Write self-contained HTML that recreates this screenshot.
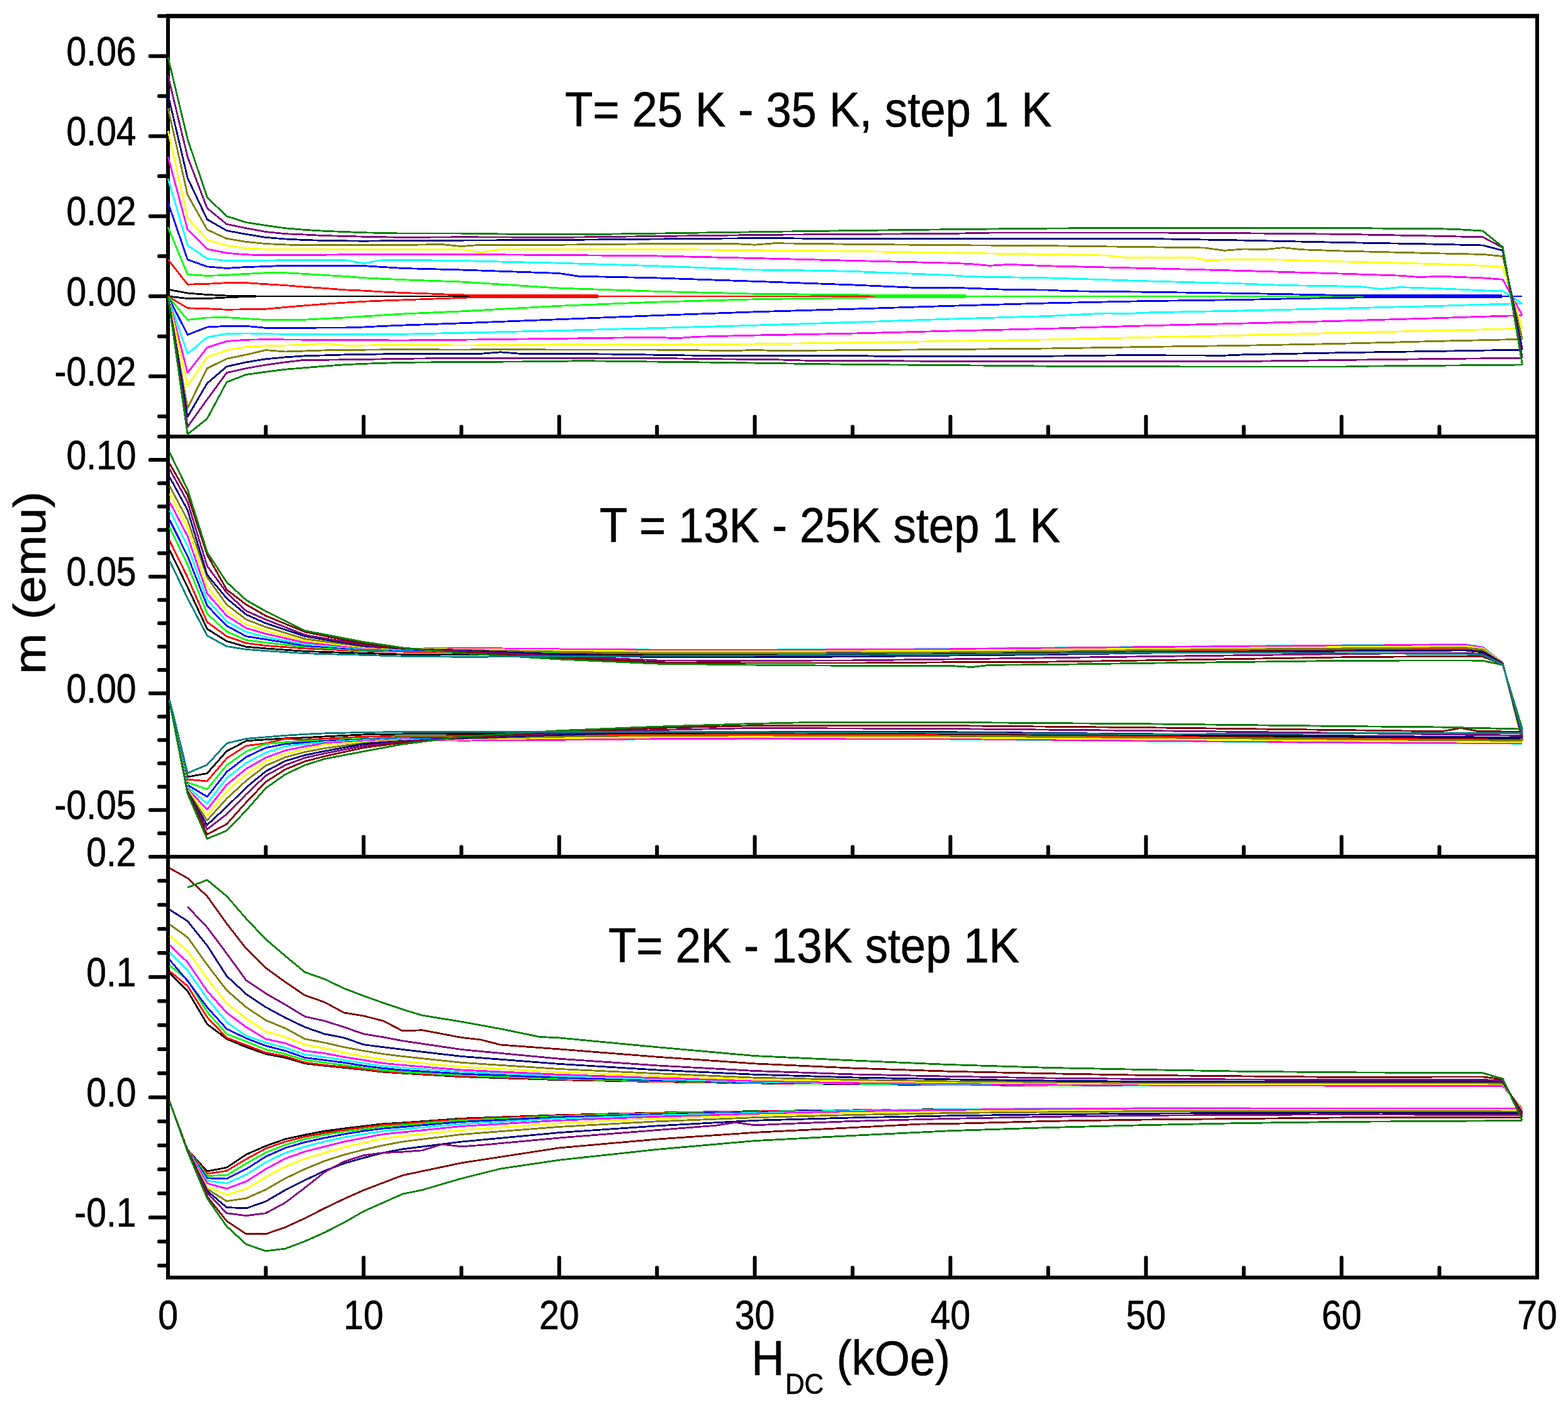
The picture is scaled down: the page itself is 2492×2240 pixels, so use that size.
<!DOCTYPE html>
<html lang="en"><head><meta charset="utf-8"><title>m (emu) vs H_DC (kOe)</title>
<style>html,body{margin:0;padding:0;background:#fff}body{width:2492px;height:2240px;overflow:hidden}svg{display:block}text{font-family:'Liberation Sans', Arial, Helvetica, sans-serif;fill:#000;stroke:#000;stroke-width:0.7px}</style>
</head><body>
<svg width="2492" height="2240" viewBox="0 0 2492 2240">
<rect x="0" y="0" width="2492" height="2240" fill="#ffffff"/>
<g>
<line x1="267.00" y1="25.50" x2="267.00" y2="2031.00" stroke="#000" stroke-width="6.00" stroke-linecap="butt"/>
<line x1="2443.00" y1="25.50" x2="2443.00" y2="2031.00" stroke="#000" stroke-width="6.00" stroke-linecap="butt"/>
<line x1="264.00" y1="25.50" x2="2446.00" y2="25.50" stroke="#000" stroke-width="7.00" stroke-linecap="butt"/>
<line x1="264.00" y1="694.00" x2="2446.00" y2="694.00" stroke="#000" stroke-width="6.00" stroke-linecap="butt"/>
<line x1="264.00" y1="1362.00" x2="2446.00" y2="1362.00" stroke="#000" stroke-width="6.00" stroke-linecap="butt"/>
<line x1="264.00" y1="2031.00" x2="2446.00" y2="2031.00" stroke="#000" stroke-width="6.00" stroke-linecap="butt"/>
<rect x="250.10" y="22.50" width="16.90" height="6.00" rx="2.2" ry="2.2" fill="#000"/>
<rect x="250.10" y="149.80" width="16.90" height="6.00" rx="2.2" ry="2.2" fill="#000"/>
<rect x="250.10" y="277.08" width="16.90" height="6.00" rx="2.2" ry="2.2" fill="#000"/>
<rect x="250.10" y="404.36" width="16.90" height="6.00" rx="2.2" ry="2.2" fill="#000"/>
<rect x="250.10" y="531.64" width="16.90" height="6.00" rx="2.2" ry="2.2" fill="#000"/>
<rect x="250.10" y="658.92" width="16.90" height="6.00" rx="2.2" ry="2.2" fill="#000"/>
<rect x="235.90" y="86.16" width="31.10" height="6.00" rx="2.2" ry="2.2" fill="#000"/>
<rect x="235.90" y="213.44" width="31.10" height="6.00" rx="2.2" ry="2.2" fill="#000"/>
<rect x="235.90" y="340.72" width="31.10" height="6.00" rx="2.2" ry="2.2" fill="#000"/>
<rect x="235.90" y="468.00" width="31.10" height="6.00" rx="2.2" ry="2.2" fill="#000"/>
<rect x="235.90" y="595.28" width="31.10" height="6.00" rx="2.2" ry="2.2" fill="#000"/>
<rect x="250.10" y="691.00" width="16.90" height="6.00" rx="2.2" ry="2.2" fill="#000"/>
<rect x="250.10" y="765.20" width="16.90" height="6.00" rx="2.2" ry="2.2" fill="#000"/>
<rect x="250.10" y="802.31" width="16.90" height="6.00" rx="2.2" ry="2.2" fill="#000"/>
<rect x="250.10" y="839.42" width="16.90" height="6.00" rx="2.2" ry="2.2" fill="#000"/>
<rect x="250.10" y="876.53" width="16.90" height="6.00" rx="2.2" ry="2.2" fill="#000"/>
<rect x="250.10" y="950.76" width="16.90" height="6.00" rx="2.2" ry="2.2" fill="#000"/>
<rect x="250.10" y="987.87" width="16.90" height="6.00" rx="2.2" ry="2.2" fill="#000"/>
<rect x="250.10" y="1024.98" width="16.90" height="6.00" rx="2.2" ry="2.2" fill="#000"/>
<rect x="250.10" y="1062.09" width="16.90" height="6.00" rx="2.2" ry="2.2" fill="#000"/>
<rect x="250.10" y="1136.31" width="16.90" height="6.00" rx="2.2" ry="2.2" fill="#000"/>
<rect x="250.10" y="1173.42" width="16.90" height="6.00" rx="2.2" ry="2.2" fill="#000"/>
<rect x="250.10" y="1210.53" width="16.90" height="6.00" rx="2.2" ry="2.2" fill="#000"/>
<rect x="250.10" y="1247.64" width="16.90" height="6.00" rx="2.2" ry="2.2" fill="#000"/>
<rect x="250.10" y="1321.87" width="16.90" height="6.00" rx="2.2" ry="2.2" fill="#000"/>
<rect x="250.10" y="1359.00" width="16.90" height="6.00" rx="2.2" ry="2.2" fill="#000"/>
<rect x="235.90" y="728.09" width="31.10" height="6.00" rx="2.2" ry="2.2" fill="#000"/>
<rect x="235.90" y="913.64" width="31.10" height="6.00" rx="2.2" ry="2.2" fill="#000"/>
<rect x="235.90" y="1099.20" width="31.10" height="6.00" rx="2.2" ry="2.2" fill="#000"/>
<rect x="235.90" y="1284.76" width="31.10" height="6.00" rx="2.2" ry="2.2" fill="#000"/>
<rect x="250.10" y="1397.24" width="16.90" height="6.00" rx="2.2" ry="2.2" fill="#000"/>
<rect x="250.10" y="1435.48" width="16.90" height="6.00" rx="2.2" ry="2.2" fill="#000"/>
<rect x="250.10" y="1473.72" width="16.90" height="6.00" rx="2.2" ry="2.2" fill="#000"/>
<rect x="250.10" y="1511.96" width="16.90" height="6.00" rx="2.2" ry="2.2" fill="#000"/>
<rect x="250.10" y="1588.44" width="16.90" height="6.00" rx="2.2" ry="2.2" fill="#000"/>
<rect x="250.10" y="1626.68" width="16.90" height="6.00" rx="2.2" ry="2.2" fill="#000"/>
<rect x="250.10" y="1664.92" width="16.90" height="6.00" rx="2.2" ry="2.2" fill="#000"/>
<rect x="250.10" y="1703.16" width="16.90" height="6.00" rx="2.2" ry="2.2" fill="#000"/>
<rect x="250.10" y="1779.64" width="16.90" height="6.00" rx="2.2" ry="2.2" fill="#000"/>
<rect x="250.10" y="1817.88" width="16.90" height="6.00" rx="2.2" ry="2.2" fill="#000"/>
<rect x="250.10" y="1856.12" width="16.90" height="6.00" rx="2.2" ry="2.2" fill="#000"/>
<rect x="250.10" y="1894.36" width="16.90" height="6.00" rx="2.2" ry="2.2" fill="#000"/>
<rect x="250.10" y="1970.84" width="16.90" height="6.00" rx="2.2" ry="2.2" fill="#000"/>
<rect x="250.10" y="2009.08" width="16.90" height="6.00" rx="2.2" ry="2.2" fill="#000"/>
<rect x="235.90" y="1359.00" width="31.10" height="6.00" rx="2.2" ry="2.2" fill="#000"/>
<rect x="235.90" y="1550.20" width="31.10" height="6.00" rx="2.2" ry="2.2" fill="#000"/>
<rect x="235.90" y="1741.40" width="31.10" height="6.00" rx="2.2" ry="2.2" fill="#000"/>
<rect x="235.90" y="1932.60" width="31.10" height="6.00" rx="2.2" ry="2.2" fill="#000"/>
<rect x="419.43" y="675.50" width="6.00" height="18.50" rx="2.2" ry="2.2" fill="#000"/>
<rect x="574.86" y="659.50" width="6.00" height="34.50" rx="2.2" ry="2.2" fill="#000"/>
<rect x="730.29" y="675.50" width="6.00" height="18.50" rx="2.2" ry="2.2" fill="#000"/>
<rect x="885.71" y="659.50" width="6.00" height="34.50" rx="2.2" ry="2.2" fill="#000"/>
<rect x="1041.14" y="675.50" width="6.00" height="18.50" rx="2.2" ry="2.2" fill="#000"/>
<rect x="1196.57" y="659.50" width="6.00" height="34.50" rx="2.2" ry="2.2" fill="#000"/>
<rect x="1352.00" y="675.50" width="6.00" height="18.50" rx="2.2" ry="2.2" fill="#000"/>
<rect x="1507.43" y="659.50" width="6.00" height="34.50" rx="2.2" ry="2.2" fill="#000"/>
<rect x="1662.86" y="675.50" width="6.00" height="18.50" rx="2.2" ry="2.2" fill="#000"/>
<rect x="1818.29" y="659.50" width="6.00" height="34.50" rx="2.2" ry="2.2" fill="#000"/>
<rect x="1973.71" y="675.50" width="6.00" height="18.50" rx="2.2" ry="2.2" fill="#000"/>
<rect x="2129.14" y="659.50" width="6.00" height="34.50" rx="2.2" ry="2.2" fill="#000"/>
<rect x="2284.57" y="675.50" width="6.00" height="18.50" rx="2.2" ry="2.2" fill="#000"/>
<rect x="419.43" y="1343.50" width="6.00" height="18.50" rx="2.2" ry="2.2" fill="#000"/>
<rect x="574.86" y="1327.50" width="6.00" height="34.50" rx="2.2" ry="2.2" fill="#000"/>
<rect x="730.29" y="1343.50" width="6.00" height="18.50" rx="2.2" ry="2.2" fill="#000"/>
<rect x="885.71" y="1327.50" width="6.00" height="34.50" rx="2.2" ry="2.2" fill="#000"/>
<rect x="1041.14" y="1343.50" width="6.00" height="18.50" rx="2.2" ry="2.2" fill="#000"/>
<rect x="1196.57" y="1327.50" width="6.00" height="34.50" rx="2.2" ry="2.2" fill="#000"/>
<rect x="1352.00" y="1343.50" width="6.00" height="18.50" rx="2.2" ry="2.2" fill="#000"/>
<rect x="1507.43" y="1327.50" width="6.00" height="34.50" rx="2.2" ry="2.2" fill="#000"/>
<rect x="1662.86" y="1343.50" width="6.00" height="18.50" rx="2.2" ry="2.2" fill="#000"/>
<rect x="1818.29" y="1327.50" width="6.00" height="34.50" rx="2.2" ry="2.2" fill="#000"/>
<rect x="1973.71" y="1343.50" width="6.00" height="18.50" rx="2.2" ry="2.2" fill="#000"/>
<rect x="2129.14" y="1327.50" width="6.00" height="34.50" rx="2.2" ry="2.2" fill="#000"/>
<rect x="2284.57" y="1343.50" width="6.00" height="18.50" rx="2.2" ry="2.2" fill="#000"/>
<rect x="419.43" y="2012.50" width="6.00" height="18.50" rx="2.2" ry="2.2" fill="#000"/>
<rect x="574.86" y="1996.50" width="6.00" height="34.50" rx="2.2" ry="2.2" fill="#000"/>
<rect x="730.29" y="2012.50" width="6.00" height="18.50" rx="2.2" ry="2.2" fill="#000"/>
<rect x="885.71" y="1996.50" width="6.00" height="34.50" rx="2.2" ry="2.2" fill="#000"/>
<rect x="1041.14" y="2012.50" width="6.00" height="18.50" rx="2.2" ry="2.2" fill="#000"/>
<rect x="1196.57" y="1996.50" width="6.00" height="34.50" rx="2.2" ry="2.2" fill="#000"/>
<rect x="1352.00" y="2012.50" width="6.00" height="18.50" rx="2.2" ry="2.2" fill="#000"/>
<rect x="1507.43" y="1996.50" width="6.00" height="34.50" rx="2.2" ry="2.2" fill="#000"/>
<rect x="1662.86" y="2012.50" width="6.00" height="18.50" rx="2.2" ry="2.2" fill="#000"/>
<rect x="1818.29" y="1996.50" width="6.00" height="34.50" rx="2.2" ry="2.2" fill="#000"/>
<rect x="1973.71" y="2012.50" width="6.00" height="18.50" rx="2.2" ry="2.2" fill="#000"/>
<rect x="2129.14" y="1996.50" width="6.00" height="34.50" rx="2.2" ry="2.2" fill="#000"/>
<rect x="2284.57" y="2012.50" width="6.00" height="18.50" rx="2.2" ry="2.2" fill="#000"/>
</g>
<g fill="none" stroke-width="2.8" stroke-linejoin="round" stroke-linecap="butt" shape-rendering="crispEdges">
<polyline stroke="#000000" points="267.0,460.2 298.1,466.0 329.2,468.5 360.3,470.0 406.9,470.4"/>
<polyline stroke="#000000" points="267.0,471.0 298.1,474.6 329.2,474.6 360.3,472.9 391.3,471.6 406.9,471.6"/>
<polyline stroke="#000000" stroke-width="1.4" points="406.9,471.0 2419.4,471.0"/>
<polyline stroke="#ff0000" points="267.0,412.5 298.1,452.2 329.2,451.3 360.3,449.7 391.3,449.7 422.4,451.7 453.5,453.6 484.6,456.2 515.7,458.3 546.8,460.8 577.9,462.1 608.9,464.0 640.0,465.5 671.1,466.5 702.2,467.8 733.3,468.8 764.4,469.7 950.9,469.7"/>
<polyline stroke="#ff0000" points="267.0,471.0 298.1,489.8 329.2,490.7 360.3,492.3 391.3,491.7 422.4,491.2 453.5,488.4 484.6,485.8 515.7,483.3 546.8,481.2 577.9,479.3 608.9,478.0 640.0,476.9 733.3,473.4 764.4,472.3 950.9,472.3"/>
<polyline stroke="#ff0000" stroke-width="1.4" points="950.9,471.0 2419.4,471.0"/>
<polyline stroke="#00ff00" points="267.0,361.2 298.1,436.4 329.2,438.4 360.3,437.4 391.3,435.4 422.4,433.8 453.5,433.8 484.6,435.4 515.7,437.4 546.8,439.2 577.9,441.7 608.9,443.3 640.0,444.7 733.3,448.0 888.7,458.1 1044.1,463.3 1199.6,467.2 1355.0,468.8 1435.8,469.7 1535.3,469.7"/>
<polyline stroke="#00ff00" points="267.0,471.0 298.1,508.5 329.2,505.0 360.3,504.6 391.3,506.6 422.4,508.5 453.5,508.9 484.6,508.2 515.7,506.6 546.8,505.0 577.9,503.0 608.9,501.0 640.0,499.0 733.3,494.9 888.7,486.3 1044.1,480.1 1199.6,475.8 1355.0,473.4 1435.8,472.3 1535.3,472.3"/>
<polyline stroke="#00ff00" stroke-width="1.4" points="1535.3,471.0 2419.4,471.0"/>
<polyline stroke="#0000ff" points="267.0,322.0 298.1,412.7 329.2,423.9 360.3,426.5 391.3,424.5 422.4,423.6 453.5,422.2 546.8,422.2 577.9,422.6 608.9,424.5 640.0,426.5 733.3,429.0 888.7,434.5 919.8,439.2 1044.1,441.9 1199.6,447.3 1355.0,452.9 1448.3,457.1 1510.4,457.1 1603.7,460.5 1665.9,461.1 1696.9,462.7 1821.3,464.2 1976.7,466.4 2070.0,468.2 2132.1,469.4 2194.3,469.6 2387.0,469.7"/>
<polyline stroke="#0000ff" points="267.0,471.0 298.1,532.3 329.2,520.0 360.3,518.4 391.3,518.4 422.4,521.3 546.8,521.0 577.9,520.0 608.9,518.4 640.0,517.1 733.3,513.8 888.7,507.7 1044.1,501.5 1199.6,495.8 1355.0,491.2 1510.4,486.3 1665.9,481.9 1821.3,478.6 1976.7,476.5 2070.0,474.3 2132.1,473.4 2209.9,472.3 2387.0,472.3"/>
<polyline stroke="#0000ff" stroke-width="1.4" points="2387.0,471.0 2419.4,471.0"/>
<polyline stroke="#00ffff" points="267.0,283.9 298.1,389.9 329.2,411.1 360.3,414.6 391.3,414.6 453.5,413.7 546.8,413.2 577.9,418.6 608.9,413.2 640.0,413.2 733.3,414.6 888.7,418.2 1044.1,422.8 1199.6,429.0 1261.7,429.6 1355.0,431.4 1510.4,437.5 1541.5,439.7 1665.9,441.9 1821.3,446.8 1976.7,451.0 2038.9,453.5 2132.1,455.0 2163.2,455.7 2194.3,459.5 2225.4,456.6 2287.6,458.7 2356.6,461.8 2388.3,462.7 2419.4,482.6"/>
<polyline stroke="#00ffff" points="267.0,471.0 298.1,562.3 329.2,536.2 360.3,530.7 391.3,529.9 422.4,530.7 453.5,531.3 640.0,531.3 733.3,529.2 888.7,525.5 1044.1,521.5 1199.6,517.2 1355.0,512.3 1510.4,507.1 1665.9,502.5 1759.1,497.9 1790.2,498.8 1821.3,497.0 1976.7,493.9 2132.1,490.2 2287.6,486.3 2380.8,483.5 2419.4,482.6"/>
<polyline stroke="#ff00ff" points="267.0,248.9 298.1,365.1 329.2,395.9 360.3,402.3 391.3,404.8 422.4,405.8 484.6,405.5 546.8,404.8 640.0,404.3 733.3,404.4 888.7,405.5 1044.1,406.9 1199.6,410.5 1355.0,414.4 1510.4,418.2 1541.5,419.5 1572.6,422.3 1603.7,420.4 1665.9,422.8 1821.3,426.5 1976.7,430.5 2132.1,435.1 2225.4,438.2 2256.5,440.6 2287.6,439.2 2356.6,441.9 2388.3,444.3 2419.4,501.5"/>
<polyline stroke="#ff00ff" points="267.0,471.0 298.1,592.6 329.2,552.5 360.3,542.5 391.3,540.2 422.4,539.7 546.8,540.6 640.0,541.0 733.3,540.2 888.7,538.3 1044.1,536.2 1075.2,537.8 1106.3,535.3 1199.6,533.1 1355.0,530.1 1510.4,526.1 1665.9,522.4 1821.3,517.8 1976.7,514.1 2132.1,510.1 2287.6,505.6 2380.8,502.5 2419.4,501.5"/>
<polyline stroke="#ffff00" points="267.0,207.7 298.1,346.3 329.2,381.3 360.3,390.4 391.3,394.6 422.4,396.4 453.5,396.8 640.0,396.8 733.3,396.2 764.4,401.4 795.5,396.2 1044.1,396.2 1199.6,397.8 1355.0,399.3 1510.4,402.0 1665.9,404.4 1759.1,406.1 1790.2,409.7 1821.3,409.1 1899.0,409.7 1914.5,413.7 1976.7,412.1 2038.9,413.1 2132.1,415.8 2287.6,419.8 2356.6,422.3 2388.3,424.4 2419.4,522.4"/>
<polyline stroke="#ffff00" points="267.0,471.0 298.1,613.3 329.2,567.9 360.3,556.6 391.3,551.6 422.4,549.7 453.5,549.1 484.6,548.4 515.7,546.1 546.8,549.1 577.9,549.1 640.0,548.0 733.3,549.1 888.7,547.8 1044.1,548.2 1199.6,546.9 1355.0,544.8 1510.4,542.3 1665.9,539.9 1821.3,536.2 1976.7,533.1 2132.1,529.2 2287.6,525.5 2419.4,522.4"/>
<polyline stroke="#808000" points="267.0,171.9 298.1,309.7 329.2,365.1 360.3,379.4 391.3,384.4 422.4,387.6 453.5,388.9 484.6,389.9 640.0,389.5 702.2,388.5 733.3,391.6 764.4,389.2 888.7,389.2 1044.1,387.6 1168.5,387.6 1199.6,389.2 1230.7,386.7 1355.0,388.3 1510.4,389.7 1665.9,390.7 1821.3,392.7 1914.5,394.0 1945.6,398.3 1976.7,395.9 2007.8,396.8 2038.9,393.7 2070.0,396.8 2132.1,399.0 2287.6,402.9 2356.6,404.4 2388.3,407.5 2419.4,539.3"/>
<polyline stroke="#808000" points="267.0,471.0 298.1,648.9 329.2,585.6 360.3,570.3 391.3,563.9 422.4,556.6 453.5,559.0 484.6,558.0 515.7,556.9 546.8,556.4 640.0,555.6 733.3,556.1 795.5,555.3 888.7,556.1 1044.1,556.1 1168.5,557.6 1199.6,556.3 1230.7,557.6 1355.0,556.7 1510.4,555.5 1665.9,554.0 1821.3,551.5 1976.7,549.3 2132.1,546.3 2287.6,542.3 2419.4,539.3"/>
<polyline stroke="#000080" points="267.0,150.3 298.1,282.9 329.2,348.8 360.3,366.6 391.3,372.4 422.4,377.4 453.5,380.0 484.6,381.5 515.7,382.5 577.9,383.2 640.0,382.5 888.7,381.5 1044.1,380.0 1230.7,378.4 1292.8,379.4 1821.3,379.4 1976.7,382.1 2132.1,385.5 2287.6,388.3 2356.6,390.0 2388.3,398.3 2419.4,556.1"/>
<polyline stroke="#000080" points="267.0,471.0 298.1,662.7 329.2,609.4 360.3,582.7 391.3,575.8 422.4,570.8 453.5,567.9 484.6,565.8 515.7,564.9 546.8,563.9 577.9,563.5 640.0,562.3 764.4,562.3 795.5,559.8 826.5,562.3 888.7,562.3 982.0,563.2 1106.3,565.2 1230.7,565.8 1355.0,565.3 1417.2,566.8 1510.4,566.8 1603.7,566.2 1665.9,566.2 1790.2,564.7 1945.6,565.2 1976.7,563.8 2132.1,560.7 2287.6,558.3 2419.4,556.1"/>
<polyline stroke="#800080" points="267.0,120.3 298.1,249.5 329.2,331.0 360.3,356.4 391.3,362.8 422.4,368.5 453.5,371.7 484.6,373.0 515.7,374.6 577.9,376.2 640.0,377.4 733.3,376.8 888.7,377.4 1044.1,375.5 1230.7,373.2 1355.0,372.4 1510.4,371.4 1572.6,370.1 1821.3,369.9 1976.7,370.8 2132.1,372.3 2287.6,375.3 2356.6,376.9 2388.3,393.7 2419.4,569.3"/>
<polyline stroke="#800080" points="267.0,471.0 298.1,678.5 329.2,635.1 360.3,592.6 391.3,585.6 422.4,580.1 453.5,575.8 484.6,572.2 515.7,572.2 546.8,571.8 577.9,571.4 640.0,570.3 733.3,569.3 1044.1,569.3 1106.3,570.5 1230.7,571.7 1292.8,573.5 1386.1,573.5 1510.4,574.5 1821.3,574.7 1976.7,574.5 2132.1,572.4 2287.6,570.5 2419.4,569.3"/>
<polyline stroke="#008000" points="267.0,91.1 298.1,220.9 329.2,313.8 360.3,343.7 391.3,353.6 422.4,358.4 453.5,362.8 484.6,365.4 515.7,367.3 546.8,368.5 577.9,369.8 640.0,371.1 733.3,371.1 826.5,372.4 950.9,372.4 1044.1,371.1 1230.7,368.3 1355.0,366.6 1510.4,364.7 1665.9,363.1 1821.3,362.2 2132.1,362.2 2194.3,363.1 2287.6,363.7 2318.7,364.7 2356.6,367.1 2388.3,392.8 2419.4,580.0"/>
<polyline stroke="#008000" points="267.0,471.0 298.1,690.4 329.2,665.7 360.3,607.4 391.3,595.5 422.4,591.2 453.5,587.2 484.6,584.7 515.7,582.1 546.8,579.8 577.9,578.3 640.0,576.3 671.1,576.0 888.7,574.5 919.8,573.6 1044.1,575.1 1168.5,576.6 1292.8,578.6 1386.1,579.7 1510.4,580.6 1603.7,581.5 1728.0,582.8 2132.1,583.1 2163.2,582.2 2287.6,581.2 2419.4,580.0"/>
<polyline stroke="#000000" points="269.7,874.7 298.1,933.3 329.2,999.8 360.3,1019.4 391.3,1028.3 422.4,1030.9 484.6,1035.4 577.9,1038.4 640.0,1040.2 733.3,1040.6 888.7,1040.6 1044.1,1040.2 1199.6,1039.9 1355.0,1039.5 1510.4,1038.7 1665.9,1037.3 1821.3,1035.8 2132.1,1034.7 2287.6,1034.3 2328.0,1033.9 2356.6,1036.9 2388.3,1055.4 2419.4,1174.6"/>
<polyline stroke="#000000" points="269.7,1113.7 298.1,1235.1 329.2,1229.5 360.3,1194.2 391.3,1177.8 422.4,1175.8 453.5,1173.8 484.6,1172.7 515.7,1170.9 577.9,1167.9 640.0,1166.9 733.3,1166.4 888.7,1166.0 1044.1,1165.7 1199.6,1165.7 1510.4,1167.1 1821.3,1169.4 2132.1,1172.0 2419.4,1174.6"/>
<polyline stroke="#ff0000" points="269.7,859.8 298.1,917.8 329.2,989.0 360.3,1011.6 391.3,1022.4 422.4,1026.5 484.6,1030.9 577.9,1035.0 640.0,1036.1 733.3,1037.3 888.7,1038.0 1044.1,1038.4 1199.6,1038.4 1355.0,1038.0 1510.4,1036.9 1665.9,1035.4 1821.3,1033.9 2132.1,1032.4 2287.6,1031.7 2328.0,1031.3 2356.6,1034.7 2388.3,1054.7 2419.4,1176.4"/>
<polyline stroke="#ff0000" points="269.7,1114.1 298.1,1239.1 329.2,1242.0 360.3,1205.4 391.3,1185.7 422.4,1181.7 453.5,1174.4 484.6,1176.2 515.7,1174.4 577.9,1171.2 640.0,1170.5 733.3,1169.7 888.7,1169.0 1044.1,1168.3 1199.6,1167.5 1510.4,1169.0 1821.3,1171.2 2132.1,1173.8 2419.4,1176.4"/>
<polyline stroke="#00ff00" points="269.7,838.8 298.1,897.7 329.2,976.0 360.3,1003.9 391.3,1017.6 422.4,1021.7 484.6,1028.3 577.9,1033.5 640.0,1034.7 733.3,1035.4 888.7,1036.5 1044.1,1036.9 1199.6,1036.9 1355.0,1036.5 1510.4,1035.4 1665.9,1033.9 1821.3,1032.4 2132.1,1030.6 2287.6,1029.8 2328.0,1029.5 2356.6,1033.2 2388.3,1054.3 2419.4,1177.9"/>
<polyline stroke="#00ff00" points="269.7,1114.5 298.1,1244.0 329.2,1254.7 360.3,1216.3 391.3,1194.6 422.4,1182.7 453.5,1179.8 484.6,1178.2 515.7,1176.8 577.9,1174.4 640.0,1172.3 733.3,1172.0 888.7,1171.2 1044.1,1170.1 1199.6,1169.4 1510.4,1170.5 1821.3,1173.1 2132.1,1175.7 2419.4,1177.9"/>
<polyline stroke="#0000ff" points="269.7,826.7 298.1,884.0 329.2,963.0 360.3,994.9 391.3,1011.6 422.4,1016.5 484.6,1026.5 577.9,1032.4 640.0,1033.5 733.3,1033.9 888.7,1035.0 1044.1,1035.8 1199.6,1035.8 1355.0,1035.4 1510.4,1034.3 1665.9,1032.8 1821.3,1031.3 2132.1,1029.1 2287.6,1028.0 2328.0,1027.6 2356.6,1031.7 2388.3,1054.0 2419.4,1179.0"/>
<polyline stroke="#0000ff" points="269.7,1114.9 298.1,1248.0 329.2,1266.6 360.3,1227.2 391.3,1203.5 422.4,1188.7 453.5,1182.7 484.6,1180.4 515.7,1178.2 577.9,1175.7 640.0,1173.5 733.3,1173.8 888.7,1172.7 1044.1,1171.6 1199.6,1170.9 1510.4,1171.6 1821.3,1174.2 2132.1,1176.8 2419.4,1179.0"/>
<polyline stroke="#00ffff" points="269.7,811.8 298.1,868.0 329.2,953.4 360.3,987.9 391.3,1004.6 422.4,1012.8 484.6,1024.3 577.9,1031.3 640.0,1032.4 733.3,1030.8 888.7,1031.9 1044.1,1033.0 1199.6,1033.0 1355.0,1032.6 1510.4,1031.5 1665.9,1030.0 1821.3,1028.5 2132.1,1025.9 2287.6,1024.8 2328.0,1024.5 2356.6,1028.9 2388.3,1053.6 2419.4,1180.5"/>
<polyline stroke="#00ffff" points="269.7,1115.1 298.1,1251.0 329.2,1277.5 360.3,1237.0 391.3,1212.8 422.4,1196.5 453.5,1186.7 484.6,1182.7 515.7,1179.8 577.9,1176.8 640.0,1174.6 733.3,1177.0 888.7,1176.2 1044.1,1174.8 1199.6,1174.4 1510.4,1175.1 1821.3,1178.1 2132.1,1180.7 2419.4,1182.2"/>
<polyline stroke="#ff00ff" points="269.7,798.2 298.1,852.4 329.2,943.4 360.3,979.0 391.3,998.7 422.4,1007.6 484.6,1021.7 577.9,1030.2 640.0,1031.3 733.3,1030.2 888.7,1031.9 1044.1,1033.2 1199.6,1033.2 1355.0,1032.8 1510.4,1031.9 1665.9,1030.2 1821.3,1028.7 2132.1,1026.3 2287.6,1025.4 2328.0,1025.0 2356.6,1029.5 2388.3,1053.6 2419.4,1180.5"/>
<polyline stroke="#ff00ff" points="269.7,1115.4 298.1,1254.0 329.2,1287.0 360.3,1247.5 391.3,1222.2 422.4,1204.4 453.5,1193.1 484.6,1186.7 515.7,1181.7 577.9,1178.3 640.0,1175.7 733.3,1177.2 888.7,1176.2 1044.1,1174.6 1199.6,1174.0 1510.4,1174.6 1821.3,1177.5 2132.1,1180.1 2419.4,1181.6"/>
<polyline stroke="#ffff00" points="269.7,785.1 298.1,838.3 329.2,932.6 360.3,971.2 391.3,992.7 422.4,1002.7 484.6,1018.7 577.9,1029.1 640.0,1031.3 733.3,1032.1 888.7,1033.9 1044.1,1035.4 1199.6,1035.4 1355.0,1035.0 1510.4,1034.3 1665.9,1032.8 1821.3,1031.3 2132.1,1028.7 2287.6,1027.6 2328.0,1027.2 2356.6,1030.9 2388.3,1054.0 2419.4,1179.8"/>
<polyline stroke="#ffff00" points="269.7,1115.5 298.1,1255.8 329.2,1296.3 360.3,1257.7 391.3,1231.1 422.4,1210.4 453.5,1198.5 484.6,1191.0 515.7,1183.7 577.9,1179.8 640.0,1176.8 733.3,1175.3 888.7,1173.5 1044.1,1172.0 1199.6,1171.6 1510.4,1172.7 1821.3,1175.3 2132.1,1177.9 2419.4,1179.8"/>
<polyline stroke="#808000" points="269.7,772.9 298.1,826.5 329.2,917.8 360.3,961.2 391.3,984.9 422.4,996.8 484.6,1015.7 577.9,1028.0 640.0,1031.3 733.3,1033.2 888.7,1036.1 1044.1,1038.4 1199.6,1038.4 1355.0,1038.0 1510.4,1036.9 1665.9,1035.4 1821.3,1033.5 2132.1,1030.9 2287.6,1029.8 2328.0,1029.5 2356.6,1032.8 2388.3,1054.3 2419.4,1177.5"/>
<polyline stroke="#808000" points="269.7,1115.7 298.1,1257.7 329.2,1304.2 360.3,1269.6 391.3,1241.0 422.4,1217.2 453.5,1203.9 484.6,1195.6 515.7,1189.6 577.9,1181.2 640.0,1177.5 733.3,1174.2 888.7,1171.2 1044.1,1169.4 1199.6,1169.0 1510.4,1170.1 1821.3,1172.7 2132.1,1175.3 2419.4,1177.5"/>
<polyline stroke="#000080" points="269.7,758.7 298.1,810.9 329.2,913.7 360.3,951.2 391.3,977.1 422.4,990.9 484.6,1011.6 577.9,1026.9 640.0,1031.3 733.3,1034.3 888.7,1039.9 1044.1,1045.0 1199.6,1044.9 1355.0,1043.9 1510.4,1042.1 1665.9,1040.6 1821.3,1038.2 2132.1,1035.0 2287.6,1034.3 2328.0,1033.9 2356.6,1036.1 2388.3,1054.7 2419.4,1172.7"/>
<polyline stroke="#000080" points="269.7,1115.8 298.1,1258.8 329.2,1311.5 360.3,1282.6 391.3,1251.9 422.4,1226.2 453.5,1209.8 484.6,1200.5 515.7,1194.2 577.9,1182.7 640.0,1178.3 733.3,1173.5 888.7,1168.3 1044.1,1163.8 1199.6,1163.1 1510.4,1163.8 1821.3,1166.8 2132.1,1169.7 2419.4,1172.7"/>
<polyline stroke="#800080" points="269.7,746.0 298.1,797.9 329.2,899.9 360.3,942.3 391.3,971.2 422.4,984.9 484.6,1009.4 577.9,1025.4 640.0,1030.9 733.3,1035.4 888.7,1042.8 1044.1,1049.9 1199.6,1050.4 1355.0,1049.9 1510.4,1048.0 1665.9,1045.8 1821.3,1043.7 2132.1,1039.7 2287.6,1038.2 2328.0,1038.0 2356.6,1039.9 2388.3,1055.4 2419.4,1169.4"/>
<polyline stroke="#800080" points="269.7,1115.9 298.1,1259.9 329.2,1318.4 360.3,1294.4 391.3,1262.7 422.4,1233.1 453.5,1216.3 484.6,1204.8 515.7,1197.9 577.9,1185.7 640.0,1179.0 733.3,1172.7 888.7,1166.0 1044.1,1160.5 1199.6,1157.5 1510.4,1158.6 1821.3,1161.6 2132.1,1165.3 2419.4,1169.4"/>
<polyline stroke="#800000" points="269.7,737.0 298.1,787.1 329.2,882.1 360.3,937.4 391.3,961.2 422.4,979.0 484.6,1004.6 577.9,1023.5 640.0,1030.6 733.3,1036.9 888.7,1045.4 1044.1,1052.8 1199.6,1054.1 1355.0,1054.1 1510.4,1052.8 1665.9,1052.1 1821.3,1049.9 2132.1,1044.9 2287.6,1043.4 2328.0,1043.2 2356.6,1043.9 2388.3,1056.2 2419.4,1163.1"/>
<polyline stroke="#800000" points="269.7,1116.0 298.1,1260.7 329.2,1326.5 360.3,1310.1 391.3,1275.5 422.4,1243.0 453.5,1223.2 484.6,1210.4 515.7,1202.4 577.9,1188.7 640.0,1180.7 733.3,1172.0 888.7,1163.8 1044.1,1157.5 1199.6,1153.6 1510.4,1153.6 1821.3,1156.7 2132.1,1160.6 2256.5,1162.3 2293.8,1162.3 2321.8,1157.5 2349.7,1162.7 2419.4,1163.1"/>
<polyline stroke="#008000" points="269.7,719.6 298.1,778.2 329.2,878.0 360.3,925.6 391.3,954.1 422.4,971.9 484.6,1002.7 577.9,1020.6 640.0,1029.8 733.3,1038.4 888.7,1048.0 1044.1,1055.1 1199.6,1057.1 1355.0,1058.4 1510.4,1058.4 1544.6,1060.6 1572.6,1057.3 1665.9,1056.6 1821.3,1054.3 2132.1,1050.4 2287.6,1049.9 2328.0,1049.9 2356.6,1050.4 2388.3,1057.1 2419.4,1159.1"/>
<polyline stroke="#008000" points="269.7,1116.1 298.1,1261.8 329.2,1333.4 360.3,1320.6 391.3,1288.4 422.4,1252.9 453.5,1231.1 484.6,1216.3 515.7,1206.5 577.9,1194.6 640.0,1183.1 733.3,1171.2 888.7,1161.6 1044.1,1155.2 1199.6,1150.4 1292.8,1148.4 1510.4,1148.4 1821.3,1150.8 2132.1,1154.5 2287.6,1156.0 2419.4,1159.1"/>
<polyline stroke="#008080" points="269.7,891.5 298.1,951.2 329.2,1010.5 360.3,1027.6 391.3,1032.4 422.4,1034.7 484.6,1038.7 577.9,1041.3 640.0,1043.2 733.3,1044.3 888.7,1043.6 1044.1,1042.8 1199.6,1042.1 1355.0,1041.3 1510.4,1040.2 1665.9,1039.1 1821.3,1037.6 2132.1,1038.0 2287.6,1039.7 2328.0,1039.9 2356.6,1041.3 2388.3,1056.6 2419.4,1165.3"/>
<polyline stroke="#008080" points="269.7,1113.2 298.1,1229.1 329.2,1215.9 360.3,1181.7 391.3,1174.4 422.4,1171.9 453.5,1169.3 484.6,1167.3 515.7,1165.9 577.9,1164.4 640.0,1163.4 733.3,1163.8 888.7,1163.1 1044.1,1163.4 1199.6,1163.8 1510.4,1165.3 1821.3,1167.4 2132.1,1165.8 2419.4,1165.3"/>
<polyline stroke="#000000" points="269.7,1547.3 298.1,1575.4 329.2,1628.0 360.3,1651.7 391.3,1664.7 422.4,1675.6 453.5,1681.5 484.6,1690.7 515.7,1694.3 546.8,1697.4 577.9,1700.6 608.9,1704.2 640.0,1706.2 733.3,1711.7 888.7,1716.7 1044.1,1719.7 1199.6,1722.0 1355.0,1723.6 1510.4,1724.7 1665.9,1725.5 1821.3,1726.0 2132.1,1726.0 2356.6,1726.0 2388.3,1726.4 2419.4,1762.6"/>
<polyline stroke="#000000" points="269.7,1751.6 298.1,1827.8 329.2,1862.1 360.3,1856.1 391.3,1835.4 422.4,1821.8 453.5,1810.9 484.6,1804.1 515.7,1798.1 546.8,1794.1 577.9,1790.3 608.9,1786.7 640.0,1784.9 733.3,1778.2 888.7,1772.7 1044.1,1769.1 1199.6,1766.6 1355.0,1764.9 1510.4,1763.5 1665.9,1762.8 1821.3,1762.2 2132.1,1762.2 2419.4,1762.6"/>
<polyline stroke="#ff0000" points="269.7,1544.0 298.1,1567.5 329.2,1617.1 360.3,1649.8 391.3,1661.6 422.4,1673.5 453.5,1679.4 484.6,1689.3 515.7,1693.3 546.8,1696.2 577.9,1699.9 608.9,1703.3 640.0,1705.6 733.3,1710.7 888.7,1715.9 1044.1,1719.4 1199.6,1721.8 1355.0,1723.4 1510.4,1724.5 1665.9,1725.3 1821.3,1725.9 2132.1,1726.0 2356.6,1726.0 2388.3,1726.4 2419.4,1762.6"/>
<polyline stroke="#ff0000" points="269.7,1751.6 298.1,1827.8 329.2,1866.0 360.3,1861.4 391.3,1842.7 422.4,1825.9 453.5,1815.0 484.6,1807.1 515.7,1801.2 546.8,1796.2 577.9,1792.2 608.9,1788.2 640.0,1786.3 733.3,1779.4 888.7,1773.3 1044.1,1769.4 1199.6,1767.0 1355.0,1765.0 1510.4,1763.7 1665.9,1762.9 1821.3,1762.2 2132.1,1762.2 2419.4,1762.6"/>
<polyline stroke="#00ff00" points="269.7,1534.9 298.1,1557.6 329.2,1609.0 360.3,1643.8 391.3,1655.7 422.4,1668.5 453.5,1675.6 484.6,1685.3 515.7,1689.3 546.8,1693.3 577.9,1697.4 608.9,1701.2 640.0,1703.9 733.3,1709.2 888.7,1714.8 1044.1,1718.4 1199.6,1721.5 1355.0,1723.0 1510.4,1724.3 1665.9,1725.1 1821.3,1725.7 2132.1,1725.9 2356.6,1725.9 2388.3,1726.4 2419.4,1762.6"/>
<polyline stroke="#00ff00" points="269.7,1751.7 298.1,1828.0 329.2,1869.4 360.3,1868.5 391.3,1849.6 422.4,1832.4 453.5,1819.9 484.6,1810.9 515.7,1804.1 546.8,1799.1 577.9,1795.3 608.9,1790.9 640.0,1788.8 733.3,1781.3 888.7,1774.6 1044.1,1770.2 1199.6,1767.5 1355.0,1765.2 1510.4,1763.7 1665.9,1762.9 1821.3,1762.2 2132.1,1762.2 2419.4,1762.6"/>
<polyline stroke="#0000ff" points="269.7,1526.0 298.1,1559.5 329.2,1601.2 360.3,1635.8 391.3,1650.7 422.4,1662.6 453.5,1670.6 484.6,1681.5 515.7,1685.3 546.8,1689.3 577.9,1694.3 608.9,1698.3 640.0,1701.2 733.3,1707.1 888.7,1713.2 1044.1,1717.4 1199.6,1720.9 1355.0,1722.6 1510.4,1723.9 1665.9,1724.9 1821.3,1725.5 2132.1,1725.9 2356.6,1725.9 2388.3,1726.4 2419.4,1762.6"/>
<polyline stroke="#0000ff" points="269.7,1751.7 298.1,1828.0 329.2,1872.9 360.3,1874.0 391.3,1858.5 422.4,1838.7 453.5,1824.9 484.6,1815.9 515.7,1809.0 546.8,1803.1 577.9,1798.1 608.9,1794.1 640.0,1791.6 733.3,1783.4 888.7,1776.1 1044.1,1771.6 1199.6,1768.1 1355.0,1765.4 1510.4,1763.7 1665.9,1762.8 1821.3,1762.0 2132.1,1762.2 2419.4,1762.6"/>
<polyline stroke="#00ffff" points="269.7,1514.6 298.1,1542.7 329.2,1587.2 360.3,1624.9 391.3,1646.7 422.4,1657.6 453.5,1665.6 484.6,1676.5 515.7,1680.5 546.8,1685.3 577.9,1690.3 608.9,1694.9 640.0,1697.4 733.3,1704.1 888.7,1710.7 1044.1,1715.9 1199.6,1719.9 1355.0,1722.0 1510.4,1723.6 1665.9,1724.5 1821.3,1725.3 2132.1,1725.7 2356.6,1725.9 2388.3,1726.2 2419.4,1762.6"/>
<polyline stroke="#00ffff" points="269.7,1751.7 298.1,1828.1 329.2,1877.3 360.3,1881.3 391.3,1867.3 422.4,1847.6 453.5,1832.7 484.6,1822.8 515.7,1815.0 546.8,1808.1 577.9,1803.1 608.9,1798.1 640.0,1795.3 733.3,1786.8 888.7,1778.2 1044.1,1773.1 1199.6,1769.4 1355.0,1765.8 1510.4,1763.5 1665.9,1762.6 1821.3,1761.8 2132.1,1762.0 2419.4,1762.6"/>
<polyline stroke="#ff00ff" points="269.7,1502.6 298.1,1529.9 329.2,1575.4 360.3,1610.0 391.3,1632.9 422.4,1651.7 453.5,1658.6 484.6,1670.6 515.7,1674.4 546.8,1680.5 577.9,1685.3 608.9,1690.3 640.0,1693.3 733.3,1701.0 888.7,1708.3 1044.1,1713.8 1199.6,1718.4 1355.0,1721.1 1510.4,1722.6 1665.9,1723.8 1821.3,1725.1 2132.1,1726.2 2356.6,1726.2 2388.3,1726.2 2419.4,1762.8"/>
<polyline stroke="#ff00ff" points="269.7,1751.7 298.1,1828.3 329.2,1881.3 360.3,1889.7 391.3,1878.2 422.4,1858.5 453.5,1841.7 484.6,1830.8 515.7,1822.8 546.8,1815.0 577.9,1809.0 608.9,1803.1 640.0,1800.0 733.3,1790.5 888.7,1781.3 1044.1,1775.2 1199.6,1771.0 1355.0,1767.3 1510.4,1764.3 1665.9,1763.1 1821.3,1762.4 2132.1,1762.6 2419.4,1762.8"/>
<polyline stroke="#ffff00" points="269.7,1487.5 298.1,1511.9 329.2,1555.5 360.3,1595.3 391.3,1619.0 422.4,1639.8 453.5,1648.8 484.6,1660.7 515.7,1666.6 546.8,1673.5 577.9,1679.4 608.9,1684.4 640.0,1687.4 733.3,1696.0 888.7,1704.6 1044.1,1710.7 1199.6,1716.3 1355.0,1719.0 1510.4,1720.7 1665.9,1722.0 1821.3,1723.2 2132.1,1723.8 2356.6,1723.8 2388.3,1724.1 2419.4,1764.7"/>
<polyline stroke="#ffff00" points="269.7,1751.7 298.1,1828.5 329.2,1887.2 360.3,1899.1 391.3,1890.1 422.4,1871.4 453.5,1854.5 484.6,1842.3 515.7,1832.7 546.8,1823.9 577.9,1816.9 608.9,1810.0 640.0,1806.2 733.3,1796.6 888.7,1785.9 1044.1,1778.2 1199.6,1773.1 1355.0,1769.4 1510.4,1767.2 1665.9,1765.8 1821.3,1764.7 2132.1,1764.3 2419.4,1764.7"/>
<polyline stroke="#808000" points="269.7,1469.7 298.1,1490.1 329.2,1533.7 360.3,1574.4 391.3,1601.2 422.4,1622.0 453.5,1634.8 484.6,1651.7 515.7,1657.6 546.8,1664.7 577.9,1670.6 608.9,1675.6 640.0,1679.4 733.3,1689.3 888.7,1699.5 1044.1,1706.7 1199.6,1713.2 1355.0,1716.5 1510.4,1719.0 1665.9,1720.5 1821.3,1721.6 2132.1,1722.0 2356.6,1722.0 2388.3,1722.4 2419.4,1767.0"/>
<polyline stroke="#808000" points="269.7,1751.7 298.1,1828.7 329.2,1890.1 360.3,1909.6 391.3,1905.0 422.4,1891.2 453.5,1873.3 484.6,1858.5 515.7,1845.7 546.8,1835.8 577.9,1827.8 608.9,1820.9 640.0,1815.0 733.3,1803.5 888.7,1791.4 1044.1,1782.8 1199.6,1776.7 1355.0,1772.5 1510.4,1769.6 1665.9,1767.9 1821.3,1766.6 2132.1,1766.2 2419.4,1767.0"/>
<polyline stroke="#000080" points="269.7,1446.3 298.1,1464.3 329.2,1503.1 360.3,1551.7 391.3,1580.4 422.4,1601.2 453.5,1618.0 484.6,1632.9 515.7,1643.8 546.8,1649.8 577.9,1660.7 608.9,1664.7 640.0,1668.5 733.3,1679.4 888.7,1691.4 1044.1,1701.0 1199.6,1708.3 1355.0,1712.9 1510.4,1715.9 1665.9,1718.0 1821.3,1719.5 2132.1,1719.5 2356.6,1719.5 2388.3,1719.9 2419.4,1769.8"/>
<polyline stroke="#000080" points="269.7,1751.7 298.1,1828.9 329.2,1893.2 360.3,1919.5 391.3,1920.9 422.4,1910.0 453.5,1891.8 484.6,1876.3 515.7,1861.4 546.8,1849.6 577.9,1840.8 608.9,1832.7 640.0,1826.8 733.3,1815.1 888.7,1800.6 1044.1,1789.9 1199.6,1781.3 1355.0,1776.9 1510.4,1773.8 1665.9,1771.7 1821.3,1770.2 2132.1,1768.9 2419.4,1769.8"/>
<polyline stroke="#800080" points="298.1,1441.5 329.2,1474.2 360.3,1515.9 391.3,1558.6 422.4,1579.4 453.5,1597.2 484.6,1616.1 515.7,1623.0 546.8,1632.9 577.9,1643.8 608.9,1648.8 640.0,1654.7 733.3,1668.5 888.7,1683.2 1044.1,1693.9 1199.6,1702.5 1355.0,1707.9 1510.4,1711.3 1665.9,1714.0 1821.3,1715.5 2132.1,1716.5 2356.6,1716.5 2388.3,1718.0 2419.4,1772.7"/>
<polyline stroke="#800080" points="269.7,1751.8 298.1,1829.3 329.2,1896.2 360.3,1928.7 391.3,1932.7 422.4,1928.7 453.5,1911.9 484.6,1888.2 515.7,1863.5 546.8,1846.7 577.9,1836.7 608.9,1832.7 640.0,1831.2 671.1,1828.9 702.2,1819.2 733.3,1822.8 764.4,1820.5 888.7,1809.0 1044.1,1796.6 1137.4,1789.3 1168.5,1784.4 1199.6,1788.9 1230.7,1787.4 1355.0,1782.4 1510.4,1778.4 1665.9,1775.4 1821.3,1773.3 2132.1,1771.7 2419.4,1772.7"/>
<polyline stroke="#800000" points="269.7,1380.3 298.1,1396.0 329.2,1424.7 360.3,1468.3 391.3,1508.1 422.4,1538.7 453.5,1561.4 484.6,1582.3 515.7,1593.2 546.8,1610.0 577.9,1615.0 608.9,1623.0 640.0,1638.9 671.1,1637.7 733.3,1649.4 764.4,1653.0 795.5,1661.0 888.7,1667.9 1044.1,1680.2 1199.6,1690.9 1355.0,1698.1 1510.4,1703.3 1665.9,1706.7 1821.3,1709.4 2132.1,1712.5 2356.6,1711.9 2388.3,1715.9 2419.4,1776.5"/>
<polyline stroke="#800000" points="269.7,1751.8 298.1,1829.7 329.2,1902.1 360.3,1941.3 391.3,1961.8 422.4,1961.8 453.5,1951.1 484.6,1936.7 515.7,1920.9 546.8,1906.0 577.9,1892.2 608.9,1880.3 640.0,1868.5 733.3,1848.8 888.7,1824.9 1044.1,1811.1 1199.6,1800.4 1355.0,1792.6 1463.8,1787.0 1510.4,1786.5 1665.9,1782.4 1821.3,1780.0 2132.1,1776.9 2419.4,1776.5"/>
<polyline stroke="#008000" points="298.1,1410.9 329.2,1398.9 360.3,1424.7 391.3,1460.5 422.4,1493.2 453.5,1519.9 484.6,1545.6 515.7,1556.5 546.8,1571.4 577.9,1583.2 608.9,1594.3 640.0,1604.8 671.1,1614.2 733.3,1624.3 795.5,1635.6 857.6,1648.4 888.7,1649.9 1044.1,1664.7 1199.6,1678.6 1355.0,1685.9 1510.4,1692.6 1665.9,1697.4 1821.3,1700.6 1976.7,1703.3 2132.1,1704.8 2356.6,1705.8 2388.3,1715.0 2419.4,1781.5"/>
<polyline stroke="#008000" points="269.7,1751.9 298.1,1830.8 329.2,1905.0 360.3,1949.6 391.3,1978.2 422.4,1988.8 453.5,1985.1 484.6,1973.3 515.7,1959.5 546.8,1943.6 577.9,1925.8 608.9,1911.9 640.0,1898.1 671.1,1891.8 733.3,1873.5 795.5,1858.0 888.7,1844.2 1044.1,1827.4 1199.6,1813.6 1355.0,1805.4 1510.4,1797.7 1665.9,1792.6 1821.3,1788.6 1976.7,1785.5 2132.1,1783.4 2287.6,1782.4 2419.4,1781.5"/>
</g>
<text transform="translate(216.60,103.76) scale(0.8780,1)" font-size="65.00" text-anchor="end">0.06</text>
<text transform="translate(216.60,231.04) scale(0.8780,1)" font-size="65.00" text-anchor="end">0.04</text>
<text transform="translate(216.60,358.32) scale(0.8780,1)" font-size="65.00" text-anchor="end">0.02</text>
<text transform="translate(216.60,485.60) scale(0.8780,1)" font-size="65.00" text-anchor="end">0.00</text>
<text transform="translate(216.60,612.88) scale(0.8780,1)" font-size="65.00" text-anchor="end">-0.02</text>
<text transform="translate(216.60,745.69) scale(0.8780,1)" font-size="65.00" text-anchor="end">0.10</text>
<text transform="translate(216.60,931.25) scale(0.8780,1)" font-size="65.00" text-anchor="end">0.05</text>
<text transform="translate(216.60,1116.80) scale(0.8780,1)" font-size="65.00" text-anchor="end">0.00</text>
<text transform="translate(216.60,1302.36) scale(0.8780,1)" font-size="65.00" text-anchor="end">-0.05</text>
<text transform="translate(216.60,1376.60) scale(0.8780,1)" font-size="65.00" text-anchor="end">0.2</text>
<text transform="translate(216.60,1567.80) scale(0.8780,1)" font-size="65.00" text-anchor="end">0.1</text>
<text transform="translate(216.60,1759.00) scale(0.8780,1)" font-size="65.00" text-anchor="end">0.0</text>
<text transform="translate(216.60,1950.20) scale(0.8780,1)" font-size="65.00" text-anchor="end">-0.1</text>
<text transform="translate(267.00,2112.60) scale(0.8780,1)" font-size="65.00" text-anchor="middle">0</text>
<text transform="translate(577.86,2112.60) scale(0.8780,1)" font-size="65.00" text-anchor="middle">10</text>
<text transform="translate(888.71,2112.60) scale(0.8780,1)" font-size="65.00" text-anchor="middle">20</text>
<text transform="translate(1199.57,2112.60) scale(0.8780,1)" font-size="65.00" text-anchor="middle">30</text>
<text transform="translate(1510.43,2112.60) scale(0.8780,1)" font-size="65.00" text-anchor="middle">40</text>
<text transform="translate(1821.29,2112.60) scale(0.8780,1)" font-size="65.00" text-anchor="middle">50</text>
<text transform="translate(2132.14,2112.60) scale(0.8780,1)" font-size="65.00" text-anchor="middle">60</text>
<text transform="translate(2443.00,2112.60) scale(0.8780,1)" font-size="65.00" text-anchor="middle">70</text>
<text transform="translate(898.00,201.00) scale(0.9270,1)" font-size="78.00" text-anchor="start">T= 25 K - 35 K, step 1 K</text>
<text transform="translate(953.00,862.00) scale(0.9270,1)" font-size="78.00" text-anchor="start">T = 13K - 25K step 1 K</text>
<text transform="translate(967.00,1529.80) scale(0.9270,1)" font-size="78.00" text-anchor="start">T= 2K - 13K step 1K</text>
<text transform="translate(1194.30,2185.60) scale(0.9270,1)" font-size="78.00">H<tspan font-size="45.6" x="57.93" dy="30">DC</tspan><tspan x="124.16" dy="-30"> (kOe)</tspan></text>
<text transform="translate(72.30,926.50) scale(0.9270,1) rotate(-90)" font-size="78.00" text-anchor="middle">m (emu)</text>
</svg>
</body></html>
